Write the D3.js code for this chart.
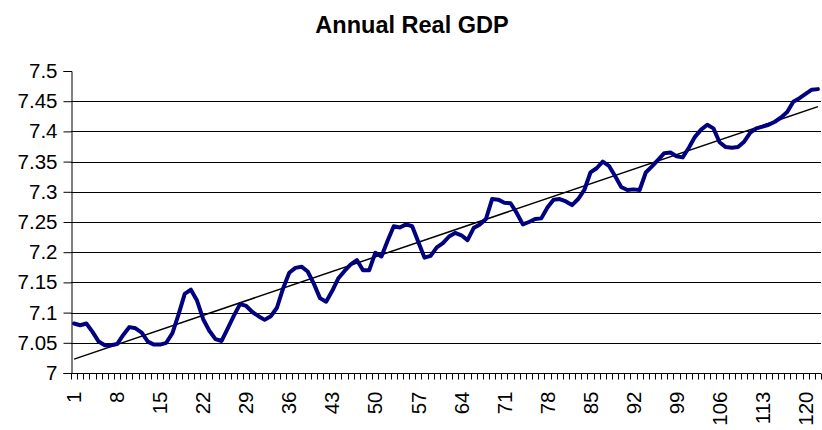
<!DOCTYPE html>
<html><head><meta charset="utf-8">
<script src="https://cdn.jsdelivr.net/npm/d3@7"></script>
<style>
body{margin:0;background:#fff;}
svg{display:block;font-family:"Liberation Sans",Arial,sans-serif;}
</style>
</head><body>
<svg id="chart" width="822" height="430"></svg>
<script>
const chartTitle = "Annual Real GDP";
const periods = [1,2,3,4,5,6,7,8,9,10,11,12,13,14,15,16,17,18,19,20,21,22,23,24,25,26,27,28,29,30,
 31,32,33,34,35,36,37,38,39,40,41,42,43,44,45,46,47,48,49,50,51,52,53,54,55,56,57,58,59,60,
 61,62,63,64,65,66,67,68,69,70,71,72,73,74,75,76,77,78,79,80,81,82,83,84,85,86,87,88,89,90,
 91,92,93,94,95,96,97,98,99,100,101,102,103,104,105,106,107,108,109,110,111,112,113,114,115,116,117,118,119,120,121,122];
const realGdp = [7.082,7.079,7.082,7.068,7.052,7.046,7.046,7.048,7.063,7.076,
 7.074,7.067,7.052,7.047,7.047,7.050,7.066,7.097,7.131,7.138,
 7.120,7.089,7.070,7.056,7.053,7.074,7.095,7.114,7.111,7.101,
 7.094,7.088,7.094,7.108,7.140,7.166,7.174,7.176,7.168,7.148,
 7.124,7.118,7.136,7.157,7.169,7.180,7.187,7.170,7.170,7.199,
 7.193,7.219,7.243,7.241,7.246,7.243,7.217,7.191,7.194,7.208,
 7.215,7.226,7.232,7.228,7.220,7.240,7.246,7.255,7.288,7.287,
 7.282,7.281,7.265,7.246,7.250,7.255,7.256,7.274,7.287,7.288,
 7.284,7.278,7.288,7.303,7.332,7.339,7.350,7.343,7.326,7.308,
 7.303,7.304,7.303,7.332,7.342,7.353,7.364,7.365,7.359,7.357,
 7.373,7.391,7.403,7.411,7.405,7.382,7.374,7.373,7.374,7.383,
 7.398,7.405,7.408,7.411,7.416,7.423,7.432,7.449,7.455,7.462,
 7.469,7.470];
const trendPeriods = [1,122];
const trendValues = [7.023,7.441];
const yTickValues = [7,7.05,7.1,7.15,7.2,7.25,7.3,7.35,7.4,7.45,7.5];
const yTickLabels = ["7","7.05","7.1","7.15","7.2","7.25","7.3","7.35","7.4","7.45","7.5"];
const xTickLabels = [1,8,15,22,29,36,43,50,57,64,71,78,85,92,99,106,113,120];

const svg = d3.select("#chart");
const plotLeft = 71, plotRight = 821, plotTop = 71, plotBottom = 373;

const x = d3.scaleBand().domain(periods).range([plotLeft, plotRight]).padding(0);
const y = d3.scaleLinear().domain([7, 7.5]).range([plotBottom, plotTop]);
const cx = p => x(p) + x.bandwidth()/2;

// title
svg.append("text").attr("x", 412).attr("y", 33).attr("text-anchor","middle")
  .attr("font-weight","bold").attr("font-size", 23.5).attr("fill","#000").text(chartTitle);

// gridlines
svg.append("g").selectAll("line").data(yTickValues.filter(v => v > 7 && v < 7.5)).join("line")
  .attr("x1", plotLeft).attr("x2", plotRight)
  .attr("y1", d => Math.round(y(d)) + 0.5).attr("y2", d => Math.round(y(d)) + 0.5)
  .attr("stroke", "#000").attr("stroke-width", 1);

// y axis
const yAxis = svg.append("g").attr("transform", `translate(${plotLeft + 0.5},0)`)
  .call(d3.axisLeft(y).tickValues(yTickValues).tickSize(8).tickPadding(6)
    .tickFormat((d,i) => yTickLabels[i]));
yAxis.selectAll("path").attr("stroke","#000");
yAxis.selectAll(".tick line").attr("stroke","#000");
yAxis.selectAll("text").attr("font-size", 20.5).attr("fill","#000")
  .attr("font-family", '"Liberation Sans",Arial,sans-serif');

// x axis
const xAxis = svg.append("g").attr("transform", `translate(0,${plotBottom + 0.5})`)
  .call(d3.axisBottom(x).tickValues(xTickLabels).tickSize(0).tickPadding(0));
xAxis.select("path").attr("stroke","#000").attr("d", `M${plotLeft},0H${plotRight}`);
xAxis.selectAll("text")
  .attr("font-size", 20.5).attr("fill","#000")
  .attr("font-family", '"Liberation Sans",Arial,sans-serif')
  .attr("transform","rotate(-90)")
  .attr("text-anchor","end")
  .attr("x", -18).attr("y", 0).attr("dy","0.35em");
// minor ticks at category boundaries
const bounds = periods.map(p => x(p)).concat([x(periods[periods.length-1]) + x.bandwidth()]);
xAxis.append("g").selectAll("line").data(bounds).join("line")
  .attr("x1", d => Math.round(d) + 0.5).attr("x2", d => Math.round(d) + 0.5)
  .attr("y1", 0).attr("y2", 6).attr("stroke","#000").attr("stroke-width",1);

// trend line
svg.append("line")
  .attr("x1", cx(trendPeriods[0])).attr("y1", y(trendValues[0]))
  .attr("x2", cx(trendPeriods[1])).attr("y2", y(trendValues[1]))
  .attr("stroke","#000").attr("stroke-width",1.5);

// data line
const line = d3.line().x((d,i) => cx(periods[i])).y(d => y(d));
svg.append("path").datum(realGdp).attr("d", line)
  .attr("fill","none").attr("stroke","#000080").attr("stroke-width",4)
  .attr("stroke-linejoin","round").attr("stroke-linecap","round");
</script>
</body></html>
